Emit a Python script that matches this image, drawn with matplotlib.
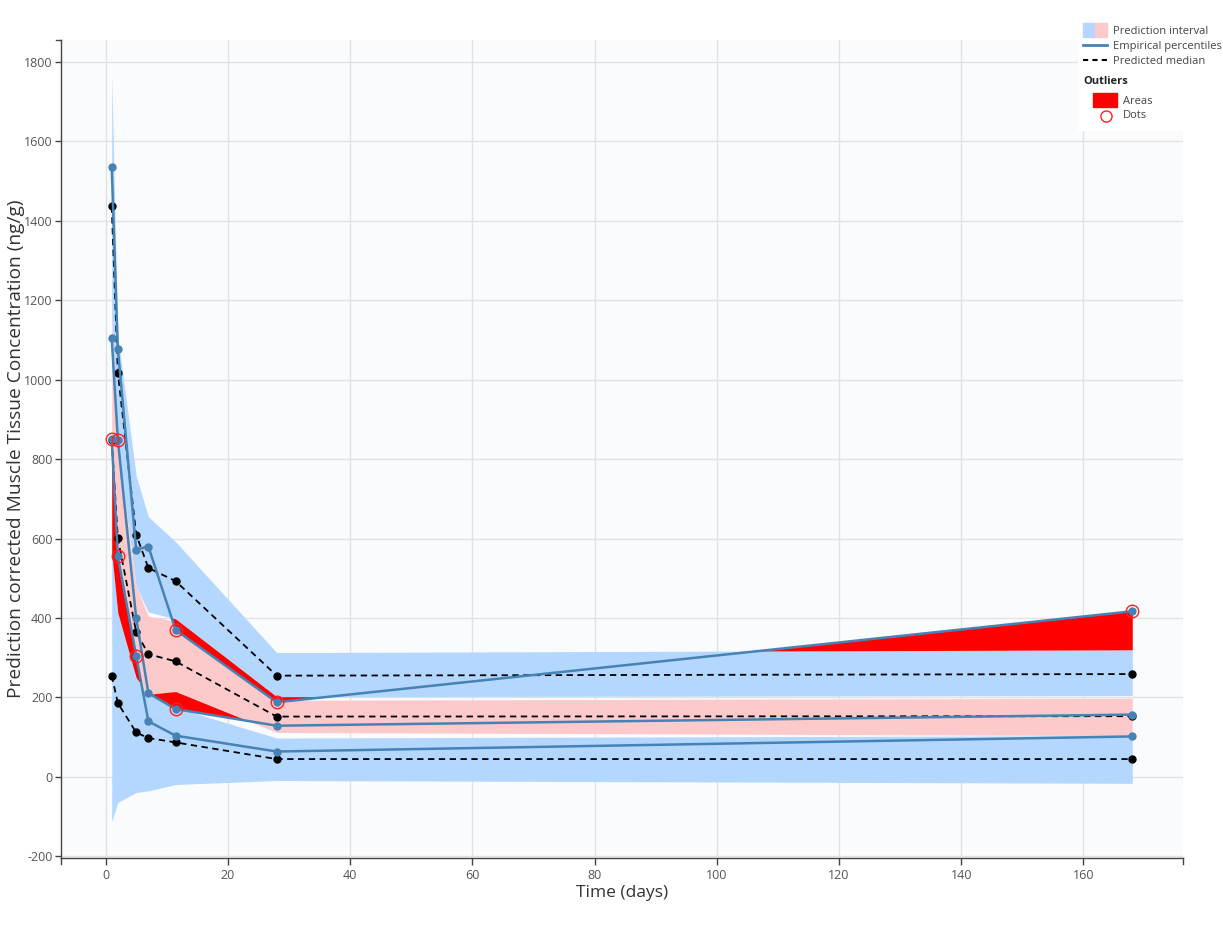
import matplotlib
matplotlib.use('Agg')
import matplotlib.pyplot as plt
import numpy as np
from matplotlib.patches import Rectangle
from matplotlib.lines import Line2D

# ---- data ----
times = [1, 2, 5, 7, 11.45, 28, 168]
emp_p95 = [1535, 1078, 572, 580, 370, 188, 417]
emp_p50 = [1105, 849, 400, 211, 171, 129, 157]
emp_p05 = [851, 555, 305, 140, 104, 64, 102]
med_p95 = [1436, 1018, 610, 526, 493, 255, 259]
med_p50 = [848, 601, 365, 309, 291, 152, 153]
med_p05 = [255, 186, 112, 98, 87, 45, 45]
pi95_lo = [1150, 830, 480, 415, 398, 202, 205]
pi95_hi = [1765, 1111, 758, 655, 592, 313, 320]
pi50_lo = [565, 413, 250, 208, 215, 112, 104]
pi50_hi = [1150, 830, 480, 405, 392, 193, 198]
pi05_lo = [-112, -64, -39, -35, -19, -9, -16]
pi05_hi = [565, 413, 250, 208, 175, 98, 104]
x_ticks = [0, 20, 40, 60, 80, 100, 120, 140, 160]
y_ticks = [-200, 0, 200, 400, 600, 800, 1000, 1200, 1400, 1600, 1800]

plt.rcParams['font.family'] = ['Open Sans', 'DejaVu Sans']
plt.rcParams['axes.unicode_minus'] = False

BLUE_BAND = '#b3d7fe'
PINK_BAND = '#fdcacc'
EMP = '#4682b4'
TXT = '#555555'

W, H = 1223, 933
fig = plt.figure(figsize=(W / 100, H / 100), dpi=100)
ax = fig.add_axes([61 / W, 1 - 858 / H, (1183 - 61) / W, (858 - 40) / H])
ax.set_facecolor('#fafbfd')

t = np.array(times, dtype=float)

# prediction intervals
ax.fill_between(t, pi05_lo, pi05_hi, color=BLUE_BAND, lw=0, zorder=1)
ax.fill_between(t, pi95_lo, pi95_hi, color=BLUE_BAND, lw=0, zorder=1)
ax.fill_between(t, pi50_lo, pi50_hi, color=PINK_BAND, lw=0, zorder=2)

# outlier areas
for emp, lo, hi in [(emp_p95, pi95_lo, pi95_hi), (emp_p50, pi50_lo, pi50_hi), (emp_p05, pi05_lo, pi05_hi)]:
    e = np.array(emp, float); l = np.array(lo, float); h = np.array(hi, float)
    ax.fill_between(t, h, e, where=e > h, interpolate=True, color='#ff0000', lw=0, zorder=3)
    ax.fill_between(t, e, l, where=e < l, interpolate=True, color='#ff0000', lw=0, zorder=3)

# predicted medians
for med in [med_p95, med_p50, med_p05]:
    ax.plot(t, med, color='black', lw=1.3, ls=(0, (3.5, 2.5)), zorder=4)
    ax.plot(t, med, ls='none', marker='o', ms=5, color='black', zorder=5)

# empirical percentiles
for emp in [emp_p95, emp_p50, emp_p05]:
    ax.plot(t, emp, color=EMP, lw=1.8, marker='o', ms=5, zorder=6)

# outlier dots
for emp, lo, hi in [(emp_p95, pi95_lo, pi95_hi), (emp_p50, pi50_lo, pi50_hi), (emp_p05, pi05_lo, pi05_hi)]:
    e = np.array(emp, float); l = np.array(lo, float); h = np.array(hi, float)
    m = (e > h) | (e < l)
    ax.plot(t[m], e[m], ls='none', marker='o', ms=9, mfc='none', mec='#ff2020', mew=1.0, zorder=7)

ax.set_xlim(-7.3, 176.3)
ax.set_ylim(-204, 1855)
ax.set_xticks(x_ticks)
ax.set_yticks(y_ticks)
ax.grid(True, color='#e2e2e2', lw=1)
ax.set_axisbelow(True)
for s in ['top', 'right']:
    ax.spines[s].set_visible(False)
for s in ['left', 'bottom']:
    ax.spines[s].set_color('#444444')
    ax.spines[s].set_linewidth(1)
ax.tick_params(axis='both', colors='#444444', labelcolor=TXT, labelsize=9, length=4, width=1, pad=2)
ax.tick_params(axis='x', length=5, pad=3)

# spine end caps
ax.add_line(Line2D([0, 0], [0, -6 / 818], transform=ax.transAxes, color='#444444', lw=1, clip_on=False))
ax.add_line(Line2D([1, 1], [0, -6 / 818], transform=ax.transAxes, color='#444444', lw=1, clip_on=False))
ax.add_line(Line2D([0, -5 / 1122], [1, 1], transform=ax.transAxes, color='#444444', lw=1, clip_on=False))

ax.set_xlabel('Time (days)', fontsize=12.5, color='#333333', labelpad=2)
ax.set_ylabel('Prediction corrected Muscle Tissue Concentration (ng/g)', fontsize=13.8, color='#333333')
ax.yaxis.set_label_coords(-36 / 1122, 0.5)

# ---- legend (manual, figure pixel coords) ----
def fx(px):
    return px / W

def fy(py):
    return 1 - py / H

fig.patches.append(Rectangle((fx(1078), fy(130)), fx(1223) - fx(1078), fy(14) - fy(130),
                             transform=fig.transFigure, color='white', zorder=10))
fig.patches.append(Rectangle((fx(1083), fy(37)), fx(12), 14 / H, transform=fig.transFigure,
                             color=BLUE_BAND, zorder=11))
fig.patches.append(Rectangle((fx(1095), fy(37)), fx(12), 14 / H, transform=fig.transFigure,
                             color=PINK_BAND, zorder=11))
fig.lines.append(Line2D([fx(1083), fx(1107)], [fy(45), fy(45)], transform=fig.transFigure,
                        color=EMP, lw=2, zorder=11))
fig.lines.append(Line2D([fx(1083), fx(1107)], [fy(60), fy(60)], transform=fig.transFigure,
                        color='black', lw=1.5, ls=(0, (2.5, 2)), zorder=11))
fig.patches.append(Rectangle((fx(1093), fy(107)), fx(24), 14 / H, transform=fig.transFigure,
                             color='#ff0000', zorder=11))
fig.lines.append(Line2D([fx(1106)], [fy(116)], transform=fig.transFigure, ls='none', marker='o',
                        ms=8, mfc='none', mec='#ff2020', mew=1.0, zorder=11))
lk = dict(fontsize=8, color='#444444', va='center', ha='left', zorder=12)
fig.text(fx(1113), fy(31), 'Prediction interval', **lk)
fig.text(fx(1113), fy(46), 'Empirical percentiles', **lk)
fig.text(fx(1113), fy(61), 'Predicted median', **lk)
fig.text(fx(1083), fy(81), 'Outliers', fontsize=8, color='#222222', va='center', ha='left',
         fontweight='bold', zorder=12)
fig.text(fx(1123), fy(101), 'Areas', **lk)
fig.text(fx(1123), fy(116), 'Dots', **lk)

fig.savefig('out.png', dpi=100, facecolor='white')
